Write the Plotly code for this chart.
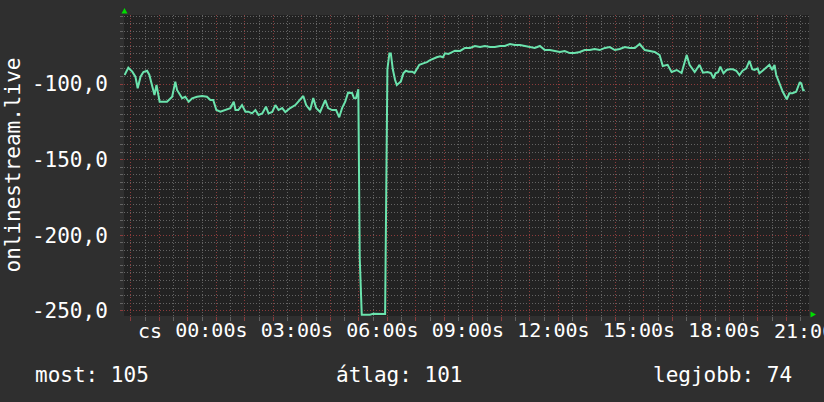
import plotly.graph_objects as go

# time in hours relative to midnight (negative = previous evening), value
hours = [-3.22, -3.09, -2.95, -2.84, -2.76, -2.66, -2.56, -2.43, -2.35, -2.25,
         -2.17, -2.10, -1.99, -1.73, -1.55, -1.44, -1.38, -1.20, -1.09, -0.97,
         -0.85, -0.68, -0.50, -0.33, -0.21, -0.11, 0.00, 0.14, 0.32, 0.49,
         0.61, 0.67, 0.77, 0.90, 1.02, 1.12, 1.25, 1.37, 1.48, 1.61,
         1.74, 1.83, 1.96, 2.07, 2.18, 2.31, 2.42, 2.59, 2.77, 2.94,
         3.05, 3.15, 3.29, 3.40, 3.50, 3.64, 3.82, 3.92, 4.06, 4.20,
         4.31, 4.41, 4.52, 4.62, 4.76, 4.83, 4.90, 4.98, 5.03, 5.10,
         5.39, 5.50, 5.74, 5.92, 6.00, 6.07, 6.12, 6.19, 6.27, 6.33,
         6.40, 6.47, 6.56, 6.65, 6.74, 6.87, 6.95, 7.03, 7.12, 7.26,
         7.39, 7.50, 7.61, 7.73, 7.85, 7.95, 8.02, 8.14, 8.20, 8.37,
         8.55, 8.72, 8.90, 9.07, 9.25, 9.42, 9.60, 9.77, 9.95, 10.12,
         10.30, 10.47, 10.65, 10.82, 11.00, 11.17, 11.35, 11.52, 11.70, 11.87,
         12.05, 12.22, 12.40, 12.57, 12.75, 12.92, 13.10, 13.27, 13.45, 13.63,
         13.80, 13.98, 14.15, 14.33, 14.50, 14.68, 14.85, 15.03, 15.20, 15.38,
         15.55, 15.66, 15.83, 15.97, 16.15, 16.32, 16.50, 16.60, 16.78, 16.95,
         17.07, 17.23, 17.35, 17.44, 17.51, 17.60, 17.68, 17.79, 17.90, 18.00,
         18.12, 18.24, 18.35, 18.46, 18.59, 18.70, 18.80, 18.88, 18.99, 19.05,
         19.16, 19.29, 19.40, 19.50, 19.58, 19.64, 19.76, 19.87, 20.01, 20.10,
         20.21, 20.34, 20.46, 20.52, 20.58, 20.64]

values = [-94.0, -89.2, -91.8, -95.1, -102.8, -95.1, -92.0, -91.2, -94.0, -100.6,
          -107.2, -100.6, -111.7, -111.7, -108.4, -98.4, -103.9, -109.4, -108.4, -111.7,
          -109.4, -108.4, -107.9, -108.4, -110.6, -110.6, -117.2, -118.3, -117.2, -116.0,
          -111.7, -117.2, -117.2, -113.9, -118.3, -118.3, -119.4, -117.2, -120.5, -119.4,
          -115.0, -119.4, -118.5, -113.9, -117.2, -115.9, -118.5, -115.9, -113.9, -110.6,
          -107.9, -113.9, -117.2, -109.3, -115.9, -118.5, -110.6, -115.9, -117.2, -117.2,
          -122.0, -115.9, -111.7, -105.7, -105.9, -109.4, -109.3, -103.5, -215.3, -252.6,
          -252.6, -252.0, -252.0, -252.2, -90.2, -79.7, -79.7, -90.2, -97.3, -100.6,
          -99.5, -98.4, -92.9, -91.2, -91.8, -91.8, -92.7, -90.2, -87.3, -86.3,
          -85.5, -84.1, -83.0, -82.3, -81.6, -82.3, -79.7, -80.1, -79.5, -77.9,
          -78.1, -76.1, -76.1, -74.8, -75.5, -74.8, -75.5, -75.5, -74.8, -74.8,
          -73.5, -74.2, -74.2, -74.8, -75.5, -76.1, -74.8, -77.5, -77.5, -78.1,
          -78.8, -78.1, -79.5, -79.5, -78.8, -77.5, -77.5, -76.8, -77.5, -76.1,
          -75.5, -77.5, -76.8, -75.5, -76.1, -76.1, -73.5, -77.5, -78.1, -78.8,
          -80.8, -88.1, -87.3, -92.0, -90.7, -92.7, -80.8, -87.3, -92.0, -87.3,
          -92.5, -92.0, -92.7, -96.2, -92.9, -92.2, -88.5, -92.9, -90.7, -90.2,
          -90.2, -91.2, -94.0, -91.2, -89.6, -84.6, -90.2, -90.7, -89.6, -92.9,
          -91.2, -88.9, -87.3, -90.7, -87.3, -94.0, -99.5, -105.1, -110.1, -106.1,
          -106.1, -105.1, -99.1, -99.5, -103.9, -104.4]

x_tick_hours = [0, 3, 6, 9, 12, 15, 18]
x_tick_labels = ["00:00s", "03:00s", "06:00s", "09:00s", "12:00s", "15:00s", "18:00s"]
day_label = "cs"
last_tick_hour = 21
last_tick_label = "21:00s"

y_tick_vals = [-250, -200, -150, -100]
y_tick_labels = ["-250,0", "-200,0", "-150,0", "-100,0"]

y_title = "onlinestream.live"
stat_labels = ["most: 105", "átlag: 101", "legjobb: 74"]

x_range = [-3.24, 20.79]
y_range = [-253.5, -54.3]

FONT = "DejaVu Sans Mono"
BG = "#2f2f2f"
PLOT_BG = "#222222"
TXT = "#ffffff"
MAJOR = "#8c3c3c"
MINOR = "#636363"
LINE = "#6be3ad"
ARROW = "#00dd00"

W, H = 824, 402
ML, MR, MT, MB = 124, 15, 15, 86
PW = W - ML - MR
PH = H - MT - MB

all_hours = list(range(-3, 21))
label_map = dict(zip(x_tick_hours, x_tick_labels))
ticktext = [label_map.get(h, "") for h in all_hours]

fig = go.Figure()
fig.add_trace(go.Scatter(x=hours, y=values, mode="lines",
                         line=dict(color=LINE, width=2), hoverinfo="skip"))

fig.update_layout(
    width=W, height=H,
    margin=dict(l=ML, r=MR, t=MT, b=MB, pad=0),
    paper_bgcolor=BG, plot_bgcolor=PLOT_BG,
    showlegend=False,
    font=dict(family=FONT, size=21, color=TXT),
    xaxis=dict(range=x_range, tickmode="array", tickvals=all_hours, ticktext=ticktext,
               tickangle=0,
               showgrid=True, gridcolor=MAJOR, griddash="1px,2px", gridwidth=1,
               ticks="outside", ticklen=4, tickcolor=MAJOR, ticklabelshift=-5,
               ticklabelstandoff=-8, zeroline=False, showline=False,
               minor=dict(dtick=0.5, tick0=0, showgrid=True, gridcolor=MINOR,
                          griddash="1px,2px", ticks="outside", ticklen=4, tickcolor=MINOR),
               tickfont=dict(family=FONT, size=20, color=TXT), fixedrange=True),
    yaxis=dict(range=y_range, tickmode="array", tickvals=y_tick_vals, ticktext=y_tick_labels,
               showgrid=True, gridcolor=MAJOR, griddash="1px,2px", gridwidth=1,
               ticks="outside", ticklen=3, tickcolor=MAJOR, ticklabelstandoff=8,
               zeroline=False, showline=False,
               minor=dict(dtick=5, tick0=0, showgrid=True, gridcolor=MINOR,
                          griddash="1px,2px", ticks="outside", ticklen=3, tickcolor=MINOR),
               tickfont=dict(family=FONT, size=21, color=TXT), fixedrange=True),
)

def px_x(px):
    return (px - ML) / PW

def px_y(py):
    return (H - MB - py) / PH

# the 21:00 tick lies just past the right end of the time range (x = 21 h)
x_per_px = PW / (x_range[1] - x_range[0])
last_tick_px = ML + (last_tick_hour - x_range[0]) * x_per_px

annotations = [
    dict(x=px_x(last_tick_px - 5), xref="paper", y=px_y(330.5), yref="paper",
         text=last_tick_label, showarrow=False, xanchor="center", yanchor="middle",
         font=dict(family=FONT, size=20, color=TXT)),
    dict(x=px_x(136), xref="paper", y=px_y(330.5), yref="paper",
         text=day_label, showarrow=False, xanchor="left", yanchor="middle",
         font=dict(family=FONT, size=20, color=TXT)),
    dict(x=px_x(12), xref="paper", y=0.5, yref="paper", text=y_title, textangle=-90,
         showarrow=False, xanchor="center", yanchor="middle",
         font=dict(family=FONT, size=21, color=TXT)),
]
stat_x = [33, 334, 651]
for sx, s in zip(stat_x, stat_labels):
    annotations.append(dict(x=px_x(sx), xref="paper", y=px_y(375), yref="paper",
                            text=s, showarrow=False, xanchor="left", yanchor="middle",
                            font=dict(family=FONT, size=21, color=TXT)))
fig.update_layout(annotations=annotations)

fig.add_shape(type="path", xref="paper", yref="paper", xsizemode="pixel", ysizemode="pixel",
              xanchor=0, yanchor=1, path="M -2.5,1.5 L 3.5,1.5 L 0.5,7 Z",
              fillcolor=ARROW, line=dict(width=0), layer="above")
fig.add_shape(type="path", xref="paper", yref="paper", xsizemode="pixel", ysizemode="pixel",
              xanchor=1, yanchor=0, path="M 1.5,4.5 L 1.5,-1.5 L 7,1.5 Z",
              fillcolor=ARROW, line=dict(width=0), layer="above")

fig.write_html("out.html", config={"displayModeBar": False},
               post_script="document.body.style.margin='0';document.body.style.padding='0';"
                           "document.body.style.background='" + BG + "';")
